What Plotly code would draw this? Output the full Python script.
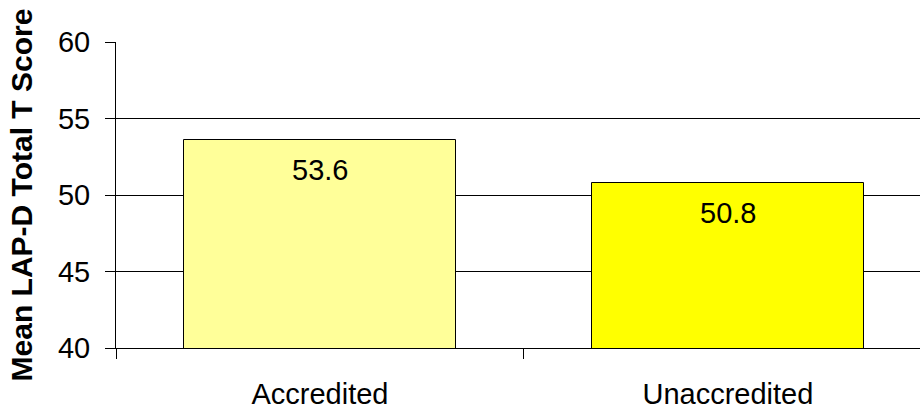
import plotly.graph_objects as go

# Mean LAP-D total T score by program accreditation status
categories = ["Accredited", "Unaccredited"]
mean_scores = [53.6, 50.8]
bar_colors = ["#FFFF99", "#FFFF00"]
y_ticks = [40, 45, 50, 55, 60]

FONT = "Arial, Liberation Sans, sans-serif"
SIZE = 29

fig = go.Figure()
fig.add_trace(go.Bar(
    x=categories,
    y=mean_scores,
    width=0.667,
    marker=dict(color=bar_colors, line=dict(color="black", width=1)),
    hoverinfo="skip",
))

# value labels just below each bar top
for cat, val in zip(categories, mean_scores):
    fig.add_annotation(
        x=cat, y=val, text=f"{val:.1f}", showarrow=False,
        yanchor="top", yshift=-12,
        font=dict(family=FONT, size=SIZE, color="black"),
    )

fig.update_layout(
    width=920, height=410,
    margin=dict(l=116, r=0, t=42, b=62),
    paper_bgcolor="white", plot_bgcolor="white",
    showlegend=False,
    font=dict(family=FONT, size=SIZE, color="black"),
    bargap=0,
)
fig.update_xaxes(
    type="category",
    range=[-0.5, 1.471],
    tickson="boundaries",
    ticks="outside", ticklen=10, tickcolor="black", tickwidth=1,
    ticklabelstandoff=20,
    automargin=False,
    showline=True, linecolor="black", linewidth=1,
    showgrid=False,
    tickfont=dict(family=FONT, size=SIZE),
)
fig.update_yaxes(
    range=[40, 60],
    tickvals=y_ticks,
    ticks="outside", ticklen=10, tickcolor="black", tickwidth=1,
    ticklabelstandoff=9,
    automargin=False,
    showline=True, linecolor="black", linewidth=1,
    showgrid=True, gridcolor="black", gridwidth=1,
    zeroline=False,
    tickfont=dict(family=FONT, size=SIZE),
    title=dict(text="<b>Mean LAP-D Total T Score</b>", standoff=16,
               font=dict(family=FONT, size=30)),
)

fig.write_html("out.html")
